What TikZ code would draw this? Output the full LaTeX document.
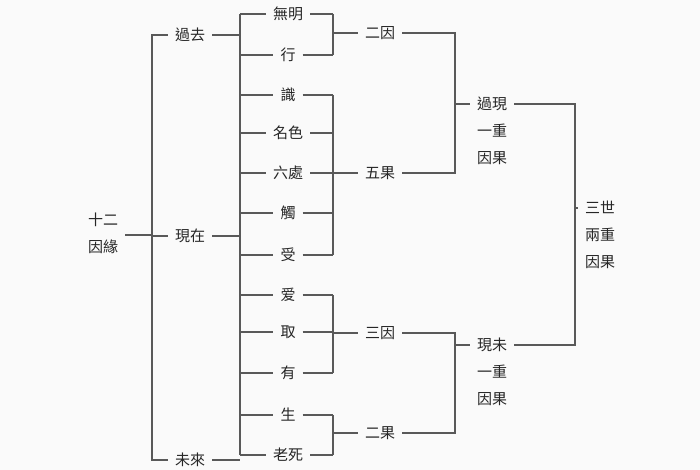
\documentclass[tikz,border=0pt]{standalone}
\usepackage{fontspec}
\setmainfont{Noto Sans CJK TC}
\begin{document}
\begin{tikzpicture}[x=1pt,y=-1pt,
  ln/.style={draw=black!65,line width=1.3pt},
  lab/.style={font=\fontsize{15}{18}\selectfont,text=black!85,inner xsep=7pt,inner ysep=1pt},
  ml/.style={lab,align=center,font=\fontsize{15}{27}\selectfont}]
\fill[black!2] (0,0) rectangle (700,470);
\useasboundingbox (0,0) rectangle (700,470);
\node[ml] (sh) at (103,233) {十二\\因緣};
\node[lab] (p1) at (190,35) {過去};
\node[lab] (p2) at (190,236) {現在};
\node[lab] (p3) at (190,460) {未來};
\foreach \n/\t/\y in {a/無明/14,b/行/55,c/識/95,d/名色/133,e/六處/173,f/觸/213,g/受/255,h/爱/295,i/取/332,j/有/373,k/生/415,l/老死/455}
  \node[lab] (\n) at (288,\y) {\t};
\node[lab] (g1) at (380,33) {二因};
\node[lab] (g2) at (380,173) {五果};
\node[lab] (g3) at (380,333) {三因};
\node[lab] (g4) at (380,433) {二果};
\node[ml] (r1) at (492,131) {過現\\一重\\因果};
\node[ml] (r2) at (492,372) {現未\\一重\\因果};
\node[ml] (t) at (600,235) {三世\\兩重\\因果};
% level 1
\draw[ln] (sh.east|-0,235) -- (152,235);
\draw[ln] (p1.west) -- (152,35) -- (152,460) -- (p3.west);
\draw[ln] (152,236) -- (p2.west);
% level 2
\draw[ln] (p1.east) -- (240,35);
\draw[ln] (p2.east) -- (240,236);
\draw[ln] (p3.east) -- (240,460);
\draw[ln] (240,14) -- (240,455);
\foreach \n in {a,b,c,d,e,f,g,h,i,j,k,l}
  \draw[ln] (240,0|-\n) -- (\n.west);
% brackets
\foreach \n in {a,b,c,d,e,f,g,h,i,j,k,l}
  \draw[ln] (\n.east) -- (333,0|-\n);
\draw[ln] (333,14) -- (333,55);
\draw[ln] (333,95) -- (333,255);
\draw[ln] (333,295) -- (333,373);
\draw[ln] (333,415) -- (333,455);
\draw[ln] (333,33) -- (g1.west);
\draw[ln] (333,173) -- (g2.west);
\draw[ln] (333,333) -- (g3.west);
\draw[ln] (333,433) -- (g4.west);
% right
\draw[ln] (g1.east) -- (455,33) -- (455,173) -- (g2.east);
\draw[ln] (455,104) -- (r1.west|-0,104);
\draw[ln] (g3.east) -- (455,333) -- (455,433) -- (g4.east);
\draw[ln] (455,345) -- (r2.west|-0,345);
\draw[ln] (r1.east|-0,104) -- (575,104) -- (575,345) -- (r2.east|-0,345);
\draw[ln] (575,208) -- (t.west|-0,208);
\end{tikzpicture}
\end{document}
